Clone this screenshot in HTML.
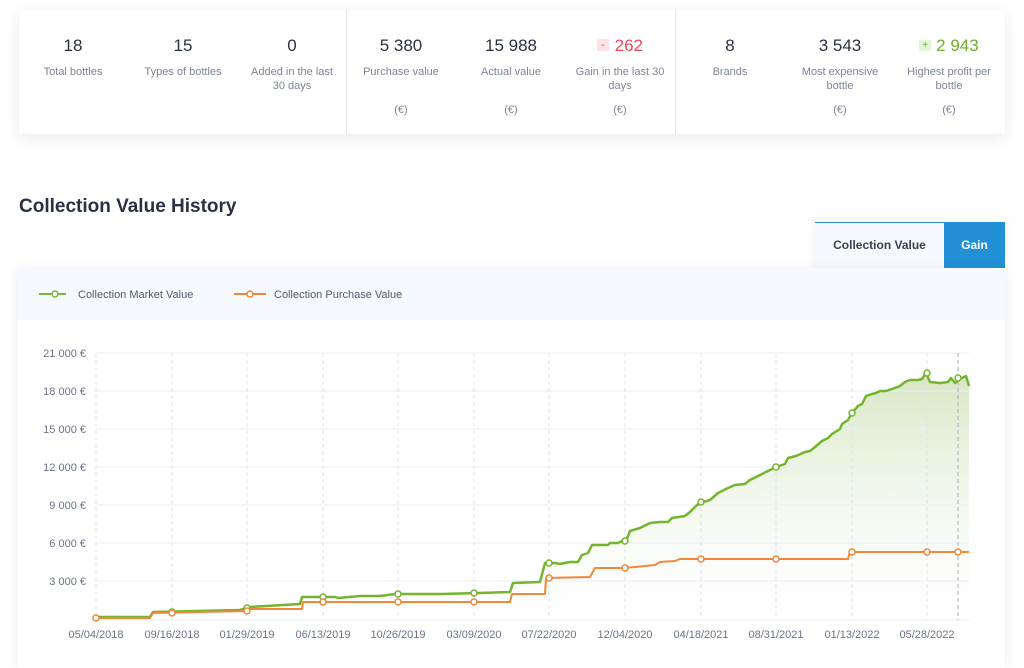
<!DOCTYPE html>
<html><head><meta charset="utf-8"><style>
body{margin:0;width:1024px;height:645px;overflow:hidden;background:#fff;font-family:"Liberation Sans",sans-serif;position:relative}
.card{position:absolute;left:19px;top:10px;width:986px;height:124px;background:#fff;box-shadow:0 4px 16px rgba(0,0,0,.09);border-radius:2px}
.st{position:absolute;top:0;width:108px;text-align:center}
.st .v{position:absolute;top:26px;width:100%;font-size:17px;color:#2a3142}
.st .l{position:absolute;top:56px;width:100%;font-size:11px;color:#7d8595;line-height:13.5px}
.st .e{position:absolute;top:94px;width:100%;font-size:11px;color:#7d8595}
.sep{position:absolute;top:0;width:1px;height:124px;background:#e4e9f2}
h2{position:absolute;left:19px;top:196px;margin:0;font-size:19px;font-weight:bold;color:#2a3142}
.tabs{position:absolute;left:815px;top:222px;width:190px;height:46px;box-shadow:0 0 10px rgba(0,0,0,.06)}
.t1{position:absolute;left:0;top:0;width:129px;height:45px;background:#f6f9fd;border-top:1px solid #2a90d6;text-align:center;line-height:45px;font-size:12px;font-weight:bold;color:#3a4050}
.t2{position:absolute;left:129px;top:0;width:61px;height:46px;background:#2290d6;color:#fff;text-align:center;line-height:46px;font-size:12px;font-weight:bold}
.chart{position:absolute;left:18px;top:268px;width:987px;height:400px;background:#fff;box-shadow:0 2px 14px rgba(0,0,0,.08)}
.leg{position:absolute;left:0;top:0;width:987px;height:52px;background:#f6f9fd}
</style></head><body>
<div class="card">
<div class="st" style="left:0"><div class="v">18</div><div class="l">Total bottles</div></div>
<div class="st" style="left:110px"><div class="v">15</div><div class="l">Types of bottles</div></div>
<div class="st" style="left:219px"><div class="v">0</div><div class="l">Added in the last<br>30 days</div></div>
<div class="sep" style="left:327px"></div>
<div class="st" style="left:328px"><div class="v">5 380</div><div class="l">Purchase value</div><div class="e">(€)</div></div>
<div class="st" style="left:438px"><div class="v">15 988</div><div class="l">Actual value</div><div class="e">(€)</div></div>
<div class="st" style="left:547px"><div class="v" style="color:#f0485a"><span style="background:#fde3e6;font-size:11px;padding:0 4px;margin-right:6px;vertical-align:3px">-</span>262</div><div class="l">Gain in the last 30<br>days</div><div class="e">(€)</div></div>
<div class="sep" style="left:656px"></div>
<div class="st" style="left:657px"><div class="v">8</div><div class="l">Brands</div></div>
<div class="st" style="left:767px"><div class="v">3 543</div><div class="l">Most expensive<br>bottle</div><div class="e">(€)</div></div>
<div class="st" style="left:876px"><div class="v" style="color:#6fae2d"><span style="background:#e3f5dc;font-size:10px;padding:0 3px;margin-right:5px;vertical-align:3px">+</span>2 943</div><div class="l">Highest profit per<br>bottle</div><div class="e">(€)</div></div>
</div>
<h2>Collection Value History</h2>
<div class="tabs"><div class="t1">Collection Value</div><div class="t2">Gain</div></div>
<div class="chart"><div class="leg"></div></div>
<svg style="position:absolute;left:0;top:0" width="1024" height="645">
<defs><linearGradient id="g" gradientUnits="userSpaceOnUse" x1="0" y1="370" x2="0" y2="620"><stop offset="0" stop-color="#d6e6c2"/><stop offset="1" stop-color="#ffffff" stop-opacity="0.3"/></linearGradient></defs>
<g font-size="11" fill="#525a6a">
<line x1="39" y1="294" x2="66" y2="294" stroke="#7ab93e" stroke-width="2"/><circle cx="55" cy="294" r="3" fill="#fff" stroke="#7ab93e" stroke-width="1.5"/>
<text x="78" y="298">Collection Market Value</text>
<line x1="234" y1="294" x2="266" y2="294" stroke="#f0873a" stroke-width="2"/><circle cx="250" cy="294" r="3" fill="#fff" stroke="#f0873a" stroke-width="1.5"/>
<text x="274" y="298">Collection Purchase Value</text>
</g>
<path id="gp" d="M96,620 L96,617 L150,617 L153,612 L240,610 L250,607 L300,604 L302,597 L335,597 L338,598 L360,596 L380,596 L395,594 L440,594 L480,593 L510,592 L513,583 L540,582 L545,563 L555,563 L560,564 L570,562 L578,562 L582,555 L588,553 L592,545 L608,545 L610,543 L618,543 L622,541 L626,541 L630,531 L640,528 L650,523 L660,522 L668,522 L672,518 L685,516 L690,512 L697,505 L703,502 L710,500 L718,493 L728,488 L735,485 L745,484 L750,480 L760,475 L766,472 L776,467 L785,464 L788,458 L796,456 L805,452 L810,451 L815,447 L822,441 L828,438 L832,434 L840,429 L842,424 L848,420 L852,413 L858,406 L862,404 L866,396 L872,394 L876,393 L880,391 L886,391 L892,389 L900,386 L905,382 L910,380 L918,380 L922,379 L926,373 L930,382 L940,383 L948,382 L951,378 L955,383 L960,379 L966,376 L969,386 L969,620 Z" fill="url(#g)"/>
<g stroke="#e8eef8" stroke-width="1">
<line x1="96" y1="353" x2="969" y2="353"/><line x1="96" y1="391" x2="969" y2="391"/><line x1="96" y1="429" x2="969" y2="429"/><line x1="96" y1="467" x2="969" y2="467"/><line x1="96" y1="505" x2="969" y2="505"/><line x1="96" y1="543" x2="969" y2="543"/><line x1="96" y1="581" x2="969" y2="581"/><line x1="96" y1="620" x2="969" y2="620"/>
</g>
<g stroke="#dde3ee" stroke-dasharray="4,3">
<line x1="96" y1="353" x2="96" y2="620"/><line x1="172" y1="353" x2="172" y2="620"/><line x1="247" y1="353" x2="247" y2="620"/><line x1="323" y1="353" x2="323" y2="620"/><line x1="398" y1="353" x2="398" y2="620"/><line x1="474" y1="353" x2="474" y2="620"/><line x1="549" y1="353" x2="549" y2="620"/><line x1="625" y1="353" x2="625" y2="620"/><line x1="701" y1="353" x2="701" y2="620"/><line x1="776" y1="353" x2="776" y2="620"/><line x1="852" y1="353" x2="852" y2="620"/><line x1="927" y1="353" x2="927" y2="620"/><line x1="958" y1="353" x2="958" y2="620" stroke="#aab"/>
</g>
<g font-size="11" fill="#6a7388" text-anchor="end">
<text x="86" y="357">21 000 €</text><text x="86" y="395">18 000 €</text><text x="86" y="433">15 000 €</text><text x="86" y="471">12 000 €</text><text x="86" y="509">9 000 €</text><text x="86" y="547">6 000 €</text><text x="86" y="585">3 000 €</text>
</g>
<g font-size="11" fill="#6a7388" text-anchor="middle">
<text x="96" y="638">05/04/2018</text><text x="172" y="638">09/16/2018</text><text x="247" y="638">01/29/2019</text><text x="323" y="638">06/13/2019</text><text x="398" y="638">10/26/2019</text><text x="474" y="638">03/09/2020</text><text x="549" y="638">07/22/2020</text><text x="625" y="638">12/04/2020</text><text x="701" y="638">04/18/2021</text><text x="776" y="638">08/31/2021</text><text x="852" y="638">01/13/2022</text><text x="927" y="638">05/28/2022</text>
</g>
<path d="M96,617 L150,617 L153,612 L240,610 L250,607 L300,604 L302,597 L335,597 L338,598 L360,596 L380,596 L395,594 L440,594 L480,593 L510,592 L513,583 L540,582 L545,563 L555,563 L560,564 L570,562 L578,562 L582,555 L588,553 L592,545 L608,545 L610,543 L618,543 L622,541 L626,541 L630,531 L640,528 L650,523 L660,522 L668,522 L672,518 L685,516 L690,512 L697,505 L703,502 L710,500 L718,493 L728,488 L735,485 L745,484 L750,480 L760,475 L766,472 L776,467 L785,464 L788,458 L796,456 L805,452 L810,451 L815,447 L822,441 L828,438 L832,434 L840,429 L842,424 L848,420 L852,413 L858,406 L862,404 L866,396 L872,394 L876,393 L880,391 L886,391 L892,389 L900,386 L905,382 L910,380 L918,380 L922,379 L926,373 L930,382 L940,383 L948,382 L951,378 L955,383 L960,379 L966,376 L969,386" fill="none" stroke="#74b52f" stroke-width="2.5" stroke-linejoin="round"/>
<path d="M96,618 L150,618 L153,613 L247,611 L250,609 L302,609 L303,602 L510,602 L512,594 L545,594 L546,578 L590,577 L595,568 L625,568 L655,565 L660,562 L675,561 L680,559 L848,559 L850,552 L969,552" fill="none" stroke="#f0873a" stroke-width="2" stroke-linejoin="round"/>
<g fill="#fff" stroke="#74b52f" stroke-width="1.5">
<circle cx="172" cy="612" r="3"/><circle cx="247" cy="608" r="3"/><circle cx="323" cy="597" r="3"/><circle cx="398" cy="594" r="3"/><circle cx="474" cy="593" r="3"/><circle cx="549" cy="563" r="3"/><circle cx="625" cy="541" r="3"/><circle cx="701" cy="502" r="3"/><circle cx="776" cy="467" r="3"/><circle cx="852" cy="413" r="3"/><circle cx="927" cy="373" r="3"/><circle cx="958" cy="378" r="3"/>
</g>
<g fill="#fff" stroke="#f0873a" stroke-width="1.5">
<circle cx="96" cy="618" r="3"/><circle cx="172" cy="613" r="3"/><circle cx="247" cy="611" r="3"/><circle cx="323" cy="602" r="3"/><circle cx="398" cy="602" r="3"/><circle cx="474" cy="602" r="3"/><circle cx="549" cy="578" r="3"/><circle cx="625" cy="568" r="3"/><circle cx="701" cy="559" r="3"/><circle cx="776" cy="559" r="3"/><circle cx="852" cy="552" r="3"/><circle cx="927" cy="552" r="3"/><circle cx="958" cy="552" r="3"/>
</g>
</svg>
</body></html>
